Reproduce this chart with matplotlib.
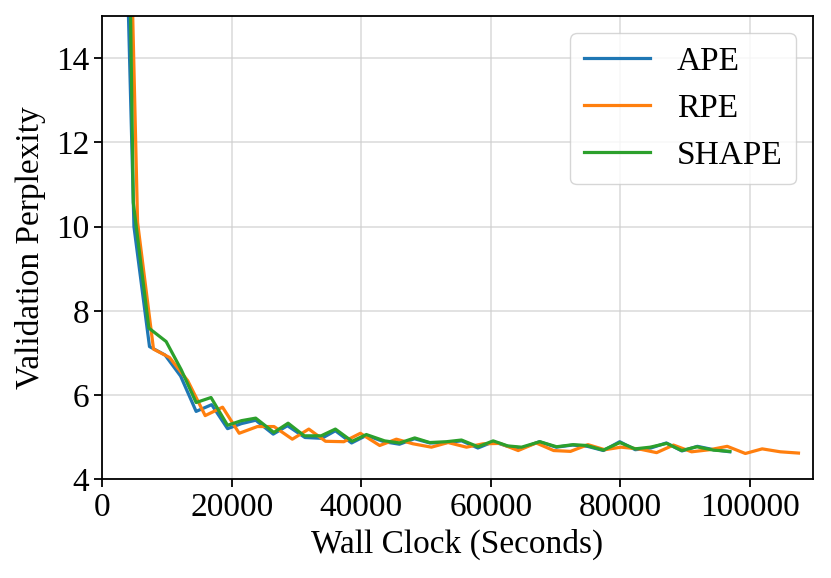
import matplotlib
matplotlib.use("Agg")
import matplotlib.pyplot as plt

plt.rcParams['font.family'] = ['Liberation Serif', 'DejaVu Serif']
plt.rcParams['font.size'] = 24

# wall clock (s) / validation perplexity
ape_x = [2580, 4900, 7300, 9700, 12100, 14500, 16900, 19350, 21500, 23700,
         26400, 28600, 31300, 33900, 36000, 38500, 40800, 43500, 45900, 48200,
         50600, 53100, 55500, 58000, 60400, 62600, 64800, 67500, 70100, 72600,
         74900, 77400, 79900, 82300, 84700, 87100, 89500, 91900, 94400, 96900]
ape_y = [23.7, 10.0, 7.15, 6.95, 6.45, 5.61, 5.77, 5.20, 5.32, 5.40,
         5.07, 5.27, 4.99, 4.97, 5.15, 4.86, 5.04, 4.89, 4.83, 4.96,
         4.86, 4.87, 4.91, 4.74, 4.89, 4.78, 4.74, 4.89, 4.76, 4.81,
         4.78, 4.68, 4.89, 4.70, 4.74, 4.86, 4.67, 4.78, 4.70, 4.65]

rpe_x = [2900, 5460, 7920, 10400, 13200, 15900, 18580, 21150, 23960, 26530,
         29350, 31900, 34480, 37300, 39860, 42840, 45420, 47990, 50830, 53400,
         56240, 58810, 61390, 64220, 67000, 69700, 72300, 75000, 77600, 80100,
         82800, 85600, 88200, 91000, 93800, 96500, 99300, 101900, 104700, 107500]
rpe_y = [26.8, 10.1, 7.09, 6.89, 6.34, 5.51, 5.71, 5.09, 5.25, 5.25,
         4.95, 5.19, 4.90, 4.89, 5.09, 4.80, 4.95, 4.84, 4.76, 4.87,
         4.76, 4.84, 4.85, 4.68, 4.86, 4.68, 4.66, 4.82, 4.70, 4.76,
         4.72, 4.63, 4.81, 4.65, 4.70, 4.78, 4.61, 4.72, 4.65, 4.62]

shape_x = [2400, 4800, 7200, 9870, 12200, 14500, 16800, 19350, 21500, 23700,
           26500, 28700, 31200, 33800, 36000, 38580, 40780, 43600, 45930, 48250,
           50570, 53150, 55470, 58040, 60360, 62600, 64740, 67570, 70150, 72720,
           74790, 77360, 79940, 82260, 84600, 87160, 89480, 91800, 94370, 96900]
shape_y = [35.9, 10.57, 7.59, 7.27, 6.60, 5.82, 5.94, 5.28, 5.39, 5.45,
           5.11, 5.33, 5.03, 5.03, 5.19, 4.90, 5.06, 4.91, 4.86, 4.98,
           4.87, 4.89, 4.93, 4.77, 4.91, 4.79, 4.76, 4.89, 4.77, 4.82,
           4.80, 4.69, 4.87, 4.72, 4.76, 4.85, 4.68, 4.77, 4.69, 4.66]

fig = plt.figure(figsize=(8.31, 5.78), dpi=100)
ax = fig.add_axes([0.123, 0.171, 0.855, 0.801])

ax.plot(ape_x, ape_y, color='#1f77b4', lw=2.3, label='APE')
ax.plot(rpe_x, rpe_y, color='#ff7f0e', lw=2.3, label='RPE')
ax.plot(shape_x, shape_y, color='#2ca02c', lw=2.3, label='SHAPE')

ax.set_xlim(0, 109700)
ax.set_ylim(4, 15)
ax.set_xticks([0, 20000, 40000, 60000, 80000, 100000])
ax.set_yticks([4, 6, 8, 10, 12, 14])
ax.grid(True, color='#d0d0d0', lw=1.1, alpha=0.8)
ax.tick_params(length=6, width=1.3)
for s in ax.spines.values():
    s.set_linewidth(1.3)

ax.set_xlabel('Wall Clock (Seconds)')
ax.set_ylabel('Validation Perplexity', labelpad=7)

ax.legend(loc='upper right')

fig.savefig('out.png', dpi=100)
